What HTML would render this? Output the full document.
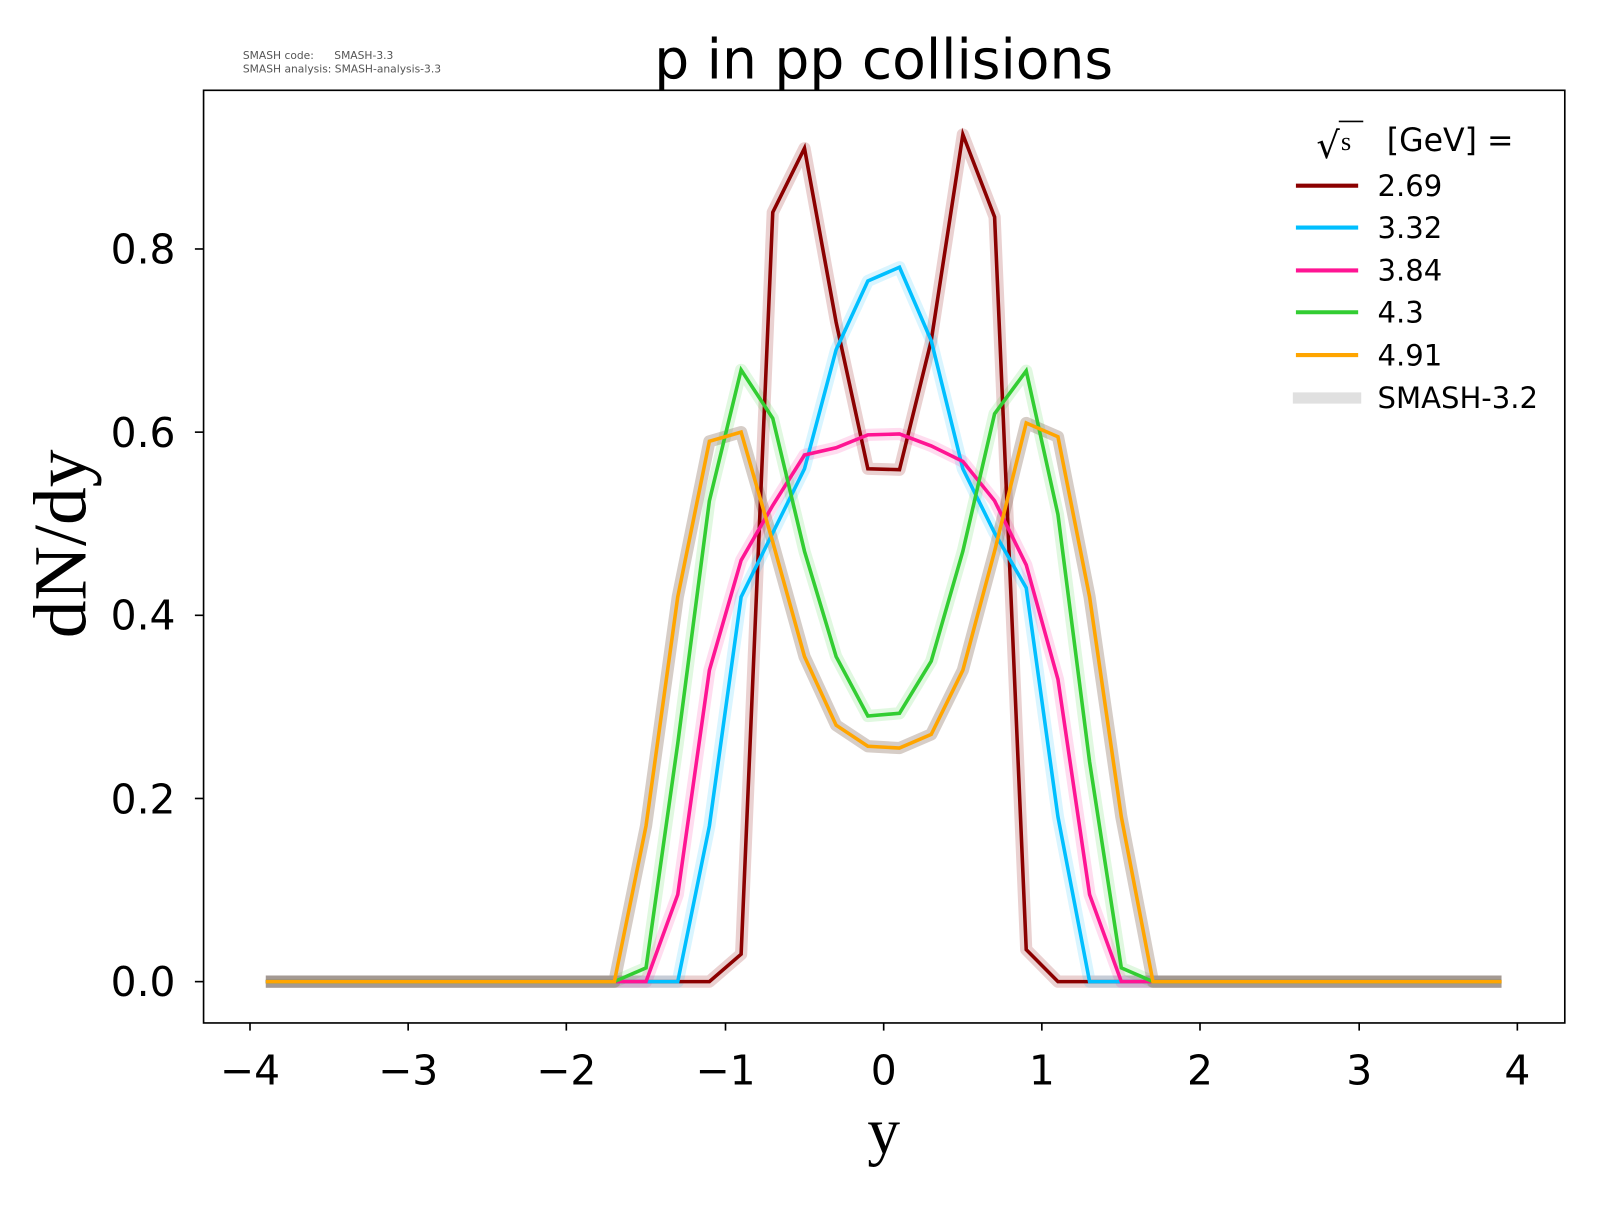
<!DOCTYPE html>
<html><head><meta charset="utf-8"><style>
html,body{margin:0;padding:0;background:#fff}
svg text{font-family:"DejaVu Sans","Liberation Sans",sans-serif}
</style></head><body>
<svg id="s" width="1600" height="1200" viewBox="0 0 1568 1176" preserveAspectRatio="none" xmlns="http://www.w3.org/2000/svg">
<rect width="1568" height="1176" fill="#fff"/>
<text x="238" y="58" font-size="10.5" fill="#555" xml:space="preserve">SMASH code:      SMASH-3.3</text>
<text x="238" y="71" font-size="10.5" fill="#555">SMASH analysis: SMASH-analysis-3.3</text>
<text x="866" y="77" font-size="54" text-anchor="middle">p in pp collisions</text>
<g id="bands"></g>
<g id="lines"></g>
<rect x="199.5" y="88.5" width="1334" height="914" fill="none" stroke="#000" stroke-width="1.6"/>
<g stroke="#000" stroke-width="1.6">
<line x1="245" y1="1002" x2="245" y2="1010"/><line x1="400" y1="1002" x2="400" y2="1010"/><line x1="555" y1="1002" x2="555" y2="1010"/><line x1="711" y1="1002" x2="711" y2="1010"/><line x1="866" y1="1002" x2="866" y2="1010"/><line x1="1021" y1="1002" x2="1021" y2="1010"/><line x1="1176" y1="1002" x2="1176" y2="1010"/><line x1="1332" y1="1002" x2="1332" y2="1010"/><line x1="1487" y1="1002" x2="1487" y2="1010"/>
<line x1="199" y1="962" x2="191" y2="962"/><line x1="199" y1="782.5" x2="191" y2="782.5"/><line x1="199" y1="603" x2="191" y2="603"/><line x1="199" y1="423.5" x2="191" y2="423.5"/><line x1="199" y1="244" x2="191" y2="244"/>
</g>
<g font-size="40" text-anchor="middle">
<text x="245" y="1063">−4</text><text x="400" y="1063">−3</text><text x="555" y="1063">−2</text><text x="711" y="1063">−1</text><text x="866" y="1063">0</text><text x="1021" y="1063">1</text><text x="1176" y="1063">2</text><text x="1332" y="1063">3</text><text x="1487" y="1063">4</text>
</g>
<g font-size="40" text-anchor="end">
<text x="172" y="976">0.0</text><text x="172" y="797">0.2</text><text x="172" y="617">0.4</text><text x="172" y="438">0.6</text><text x="172" y="258">0.8</text>
</g>
<text x="866" y="1130" font-size="64" text-anchor="middle" style="font-family:'Liberation Serif',serif">y</text>
<text transform="translate(84,533) rotate(-90)" font-size="74" text-anchor="middle" style="font-family:'Liberation Serif',serif">dN/dy</text>
<text x="1290" y="155" font-size="36" style="font-family:'DejaVu Sans',sans-serif">√</text>
<line x1="1312" y1="119" x2="1336" y2="119" stroke="#000" stroke-width="1.5"/>
<text x="1314" y="147" font-size="26" style="font-family:'Liberation Serif',serif">s</text>
<text x="1359" y="148" font-size="31">[GeV] =</text>
<g stroke-width="4">
<line x1="1270" y1="182" x2="1331" y2="182" stroke="#8b0000"/>
<line x1="1270" y1="223" x2="1331" y2="223" stroke="#00bfff"/>
<line x1="1270" y1="265" x2="1331" y2="265" stroke="#ff1493"/>
<line x1="1270" y1="306" x2="1331" y2="306" stroke="#32cd32"/>
<line x1="1270" y1="348" x2="1331" y2="348" stroke="#ffa500"/>
<line x1="1267" y1="390" x2="1334" y2="390" stroke="#e0e0e0" stroke-width="11"/>
</g>
<g font-size="28.5">
<text x="1350" y="192">2.69</text><text x="1350" y="233">3.32</text><text x="1350" y="275">3.84</text><text x="1350" y="316">4.3</text><text x="1350" y="358">4.91</text><text x="1350" y="400">SMASH-3.2</text>
</g>
</svg>
<script>
var S={
"#8b0000":{"-1.1":0,"-0.9":0.03,"-0.7":0.84,"-0.5":0.91,"-0.3":0.72,"-0.1":0.56,"0.1":0.559,"0.3":0.70,"0.5":0.925,"0.7":0.835,"0.9":0.035,"1.1":0},
"#00bfff":{"-1.3":0,"-1.1":0.17,"-0.9":0.42,"-0.7":0.49,"-0.5":0.56,"-0.3":0.69,"-0.1":0.765,"0.1":0.78,"0.3":0.70,"0.5":0.56,"0.7":0.49,"0.9":0.43,"1.1":0.18,"1.3":0},
"#ff1493":{"-1.5":0,"-1.3":0.095,"-1.1":0.34,"-0.9":0.46,"-0.7":0.52,"-0.5":0.575,"-0.3":0.583,"-0.1":0.597,"0.1":0.598,"0.3":0.585,"0.5":0.568,"0.7":0.525,"0.9":0.455,"1.1":0.33,"1.3":0.095,"1.5":0},
"#32cd32":{"-1.7":0,"-1.5":0.015,"-1.3":0.26,"-1.1":0.525,"-0.9":0.668,"-0.7":0.615,"-0.5":0.47,"-0.3":0.355,"-0.1":0.29,"0.1":0.293,"0.3":0.35,"0.5":0.47,"0.7":0.62,"0.9":0.667,"1.1":0.51,"1.3":0.24,"1.5":0.015,"1.7":0},
"#ffa500":{"-1.7":0,"-1.5":0.17,"-1.3":0.42,"-1.1":0.59,"-0.9":0.6,"-0.7":0.48,"-0.5":0.355,"-0.3":0.28,"-0.1":0.257,"0.1":0.255,"0.3":0.27,"0.5":0.34,"0.7":0.47,"0.9":0.61,"1.1":0.595,"1.3":0.42,"1.5":0.18,"1.7":0}
};
var band={"#8b0000":"rgba(139,0,0,0.18)","#00bfff":"rgba(0,191,255,0.15)","#ff1493":"rgba(255,20,147,0.15)","#32cd32":"rgba(50,205,50,0.15)","#ffa500":"rgba(120,90,70,0.3)"};
var ns="http://www.w3.org/2000/svg",B=document.getElementById("bands"),L=document.getElementById("lines");
function X(v){return 866+v*155.25}function Y(v){return 962-v*897.5}
for(var c in S){var pts=[];for(var i=0;i<40;i++){var x=-3.9+0.2*i;var k=(Math.round(x*10)/10).toFixed(1);if(k=="-0.0")k="0.0";var v=S[c][k];if(v===undefined)v=0;pts.push(X(x).toFixed(1)+","+Y(v).toFixed(1));}
var p=pts.join(" ");
var b=document.createElementNS(ns,"polyline");b.setAttribute("points",p);b.setAttribute("fill","none");b.setAttribute("stroke",band[c]);b.setAttribute("stroke-width","12");b.setAttribute("stroke-linejoin","round");B.appendChild(b);
var l=document.createElementNS(ns,"polyline");l.setAttribute("points",p);l.setAttribute("fill","none");l.setAttribute("stroke",c);l.setAttribute("stroke-width","3.5");L.appendChild(l);}
</script>
</body></html>
